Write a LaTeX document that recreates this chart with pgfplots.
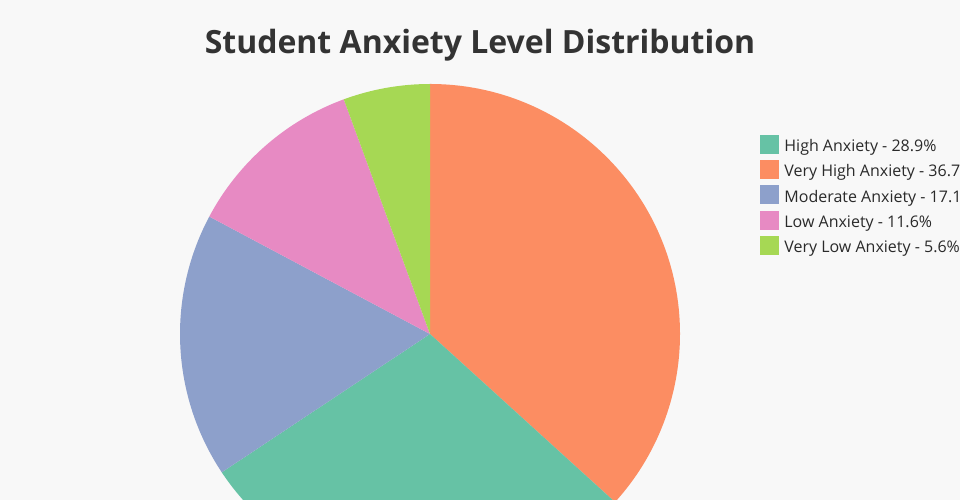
\documentclass[border=0pt]{standalone}
\usepackage{pgfplots}
\usepackage{pgfplotstable}
\pgfplotsset{compat=1.18}
\usepackage{fontspec}
\setmainfont{Open Sans}
\definecolor{bg}{HTML}{F8F8F8}
\definecolor{cHigh}{HTML}{66C2A5}
\definecolor{cVHigh}{HTML}{FC8D62}
\definecolor{cMod}{HTML}{8DA0CB}
\definecolor{cLow}{HTML}{E78AC3}
\definecolor{cVLow}{HTML}{A6D854}
\definecolor{txt}{HTML}{2A2A2A}
\definecolor{ttl}{HTML}{333333}

% pie order (clockwise from 12 o'clock): Very High, High, Moderate, Low, Very Low
\pgfplotstableread{
value
36.7
28.9
17.1
11.6
5.6
}\piedata

\pgfplotsset{sq/.style={legend image code/.code={\fill[#1] (0bp,-4bp) rectangle (18bp,14bp);}}}

\newcommand\pieslice[3]{\fill[#1] (axis cs:430,166) -- (axis cs:{430+250*cos(#2)},{166+250*sin(#2)}) arc[start angle=#2, end angle=#3, radius=250bp] -- cycle;}

\begin{document}
\begin{tikzpicture}
\pgfplotstablegetelem{0}{value}\of\piedata \let\vA\pgfplotsretval
\pgfplotstablegetelem{1}{value}\of\piedata \let\vB\pgfplotsretval
\pgfplotstablegetelem{2}{value}\of\piedata \let\vC\pgfplotsretval
\pgfplotstablegetelem{3}{value}\of\piedata \let\vD\pgfplotsretval
\pgfplotstablegetelem{4}{value}\of\piedata \let\vE\pgfplotsretval
\pgfmathsetmacro\tot{\vA+\vB+\vC+\vD+\vE}
\pgfmathsetmacro\aA{90}
\pgfmathsetmacro\aB{\aA-360*\vA/\tot}
\pgfmathsetmacro\aC{\aB-360*\vB/\tot}
\pgfmathsetmacro\aD{\aC-360*\vC/\tot}
\pgfmathsetmacro\aE{\aD-360*\vD/\tot}
\pgfmathsetmacro\aF{\aE-360*\vE/\tot}
\begin{axis}[name=ax, x=1bp, y=1bp, xmin=0, xmax=960, ymin=0, ymax=500,
  hide axis, clip=true,
  legend cell align=left,
  legend style={at={(axis cs:760,365)}, anchor=north west, draw=none, fill=none,
    inner sep=0pt, outer sep=0pt, row sep=0pt, column sep=6bp,
    font=\fontsize{16bp}{18bp}\selectfont, text=txt,
    nodes={inner sep=0pt, text height=13.5bp, text depth=8.5bp}},
]
\fill[bg] (axis cs:0,0) rectangle (axis cs:960,500);
\pieslice{cVHigh}{\aA}{\aB}
\pieslice{cHigh}{\aB}{\aC}
\pieslice{cMod}{\aC}{\aD}
\pieslice{cLow}{\aD}{\aE}
\pieslice{cVLow}{\aE}{\aF}
\node[font=\fontsize{32bp}{38bp}\selectfont\bfseries, text=ttl, anchor=base] at (axis cs:480,446.5) {Student Anxiety Level Distribution};
\addlegendimage{sq=cHigh}\addlegendentry{High Anxiety - 28.9\%}
\addlegendimage{sq=cVHigh}\addlegendentry{Very High Anxiety - 36.7\%}
\addlegendimage{sq=cMod}\addlegendentry{Moderate Anxiety - 17.1\%}
\addlegendimage{sq=cLow}\addlegendentry{Low Anxiety - 11.6\%}
\addlegendimage{sq=cVLow}\addlegendentry{Very Low Anxiety - 5.6\%}
\end{axis}
\pgfresetboundingbox
\path[use as bounding box] (ax.south west) rectangle (ax.north east);
\end{tikzpicture}
\end{document}
